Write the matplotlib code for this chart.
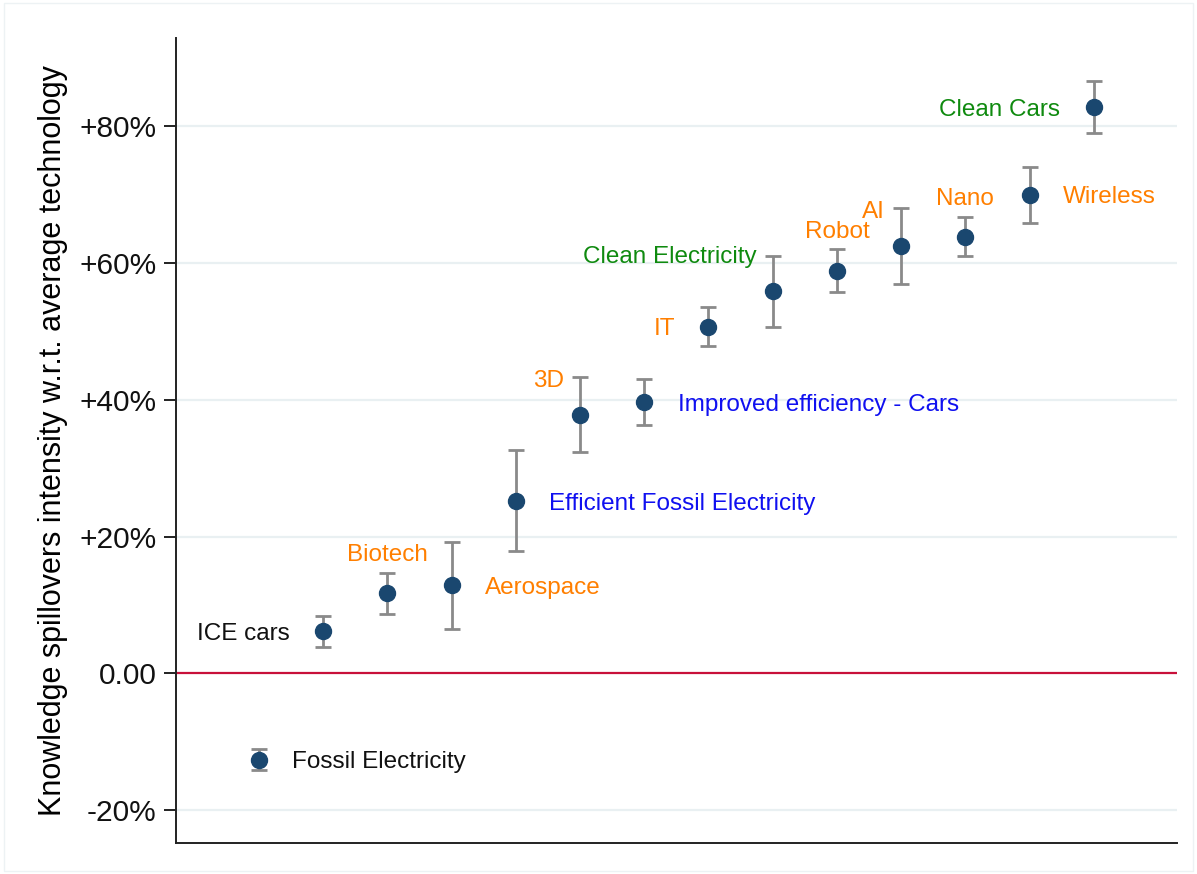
import matplotlib

matplotlib.use("Agg")
import matplotlib.pyplot as plt
from matplotlib.patches import Rectangle
from matplotlib.ticker import FixedLocator

# --------------------------------------------------------------------------- #
# Data
# --------------------------------------------------------------------------- #
technologies = [
    "Fossil Electricity", "ICE cars", "Biotech", "Aerospace",
    "Efficient Fossil Electricity", "3D", "Improved efficiency - Cars", "IT",
    "Clean Electricity", "Robot", "AI", "Nano", "Wireless", "Clean Cars",
]
estimate = [-12.6, 6.2, 11.7, 12.9, 25.2, 37.8, 39.7, 50.7,
            55.9, 58.9, 62.5, 63.8, 70.0, 82.8]
ci_low = [-14.1, 3.9, 8.7, 6.5, 17.9, 32.3, 36.3, 47.9,
          50.6, 55.7, 57.0, 61.0, 65.9, 79.0]
ci_high = [-11.0, 8.4, 14.7, 19.2, 32.6, 43.3, 43.1, 53.5,
           61.1, 62.0, 68.0, 66.8, 74.1, 86.6]

y_ticks = [-20, 0, 20, 40, 60, 80]
y_tick_labels = ["-20%", "0.00", "+20%", "+40%", "+60%", "+80%"]

# --------------------------------------------------------------------------- #
# Style
# --------------------------------------------------------------------------- #
ORANGE, GREEN, BLUE, BLACK = "#ff7f00", "#0f8a0f", "#1010f0", "#111111"
label_colors = [BLACK, BLACK, ORANGE, ORANGE, BLUE, ORANGE, BLUE, ORANGE,
                GREEN, ORANGE, ORANGE, ORANGE, ORANGE, GREEN]
# Stata-like clock positions for the marker labels
label_pos = [3, 9, 12, 3, 3, 11, 3, 9, 11, 12, 11, 12, 3, 9]
CLOCK = {  # (dx, dy, ha) in points
    3: (24, -2, "left"),
    9: (-24, -2, "right"),
    12: (0, 27.5, "center"),
    11: (-11.5, 24.5, "right"),
}

plt.rcParams["font.family"] = ["Liberation Sans", "DejaVu Sans"]

fig = plt.figure(figsize=(11.97, 8.74), dpi=100)
ax = fig.add_axes([0.147, 0.0355, 0.836, 0.921])

xs = list(range(len(technologies)))

for y in y_ticks:
    if y != 0:
        ax.axhline(y, color="#e9f0f2", lw=1.6, zorder=0)
ax.axhline(0, color="#c8103a", lw=1.6, zorder=1)

yerr = [[e - lo for e, lo in zip(estimate, ci_low)],
        [hi - e for e, hi in zip(estimate, ci_high)]]
ax.errorbar(xs, estimate, yerr=yerr, fmt="none", ecolor="#8a8a8a",
            elinewidth=2.0, capsize=5.8, capthick=2.0, zorder=2)
ax.plot(xs, estimate, "o", color="#1a476f", markersize=11.5, zorder=3)

for x, e, name, col, pos in zip(xs, estimate, technologies, label_colors, label_pos):
    dx, dy, ha = CLOCK[pos]
    ax.annotate(name, (x, e), xytext=(dx, dy), textcoords="offset points",
                ha=ha, va="center", color=col, fontsize=17.5)

ax.set_xlim(-1.29, 14.29)
ax.set_ylim(-24.8, 92.9)
ax.yaxis.set_major_locator(FixedLocator(y_ticks))
ax.set_yticklabels(y_tick_labels)
ax.set_xticks([])
ax.tick_params(axis="y", direction="out", length=9, width=1.3,
               labelsize=21.5, pad=5, colors="#111111")
ax.set_ylabel("Knowledge spillovers intensity w.r.t. average technology",
              fontsize=22, labelpad=8)

for side in ("top", "right"):
    ax.spines[side].set_visible(False)
for side in ("left", "bottom"):
    ax.spines[side].set_linewidth(1.4)
    ax.spines[side].set_color("#222222")

# faint outer frame of the graph region
fig.patches.append(Rectangle((0.003, 0.003), 0.994, 0.994, transform=fig.transFigure,
                             fill=False, edgecolor="#edf2f4", lw=1.0))

fig.savefig("out.png", dpi=100)
